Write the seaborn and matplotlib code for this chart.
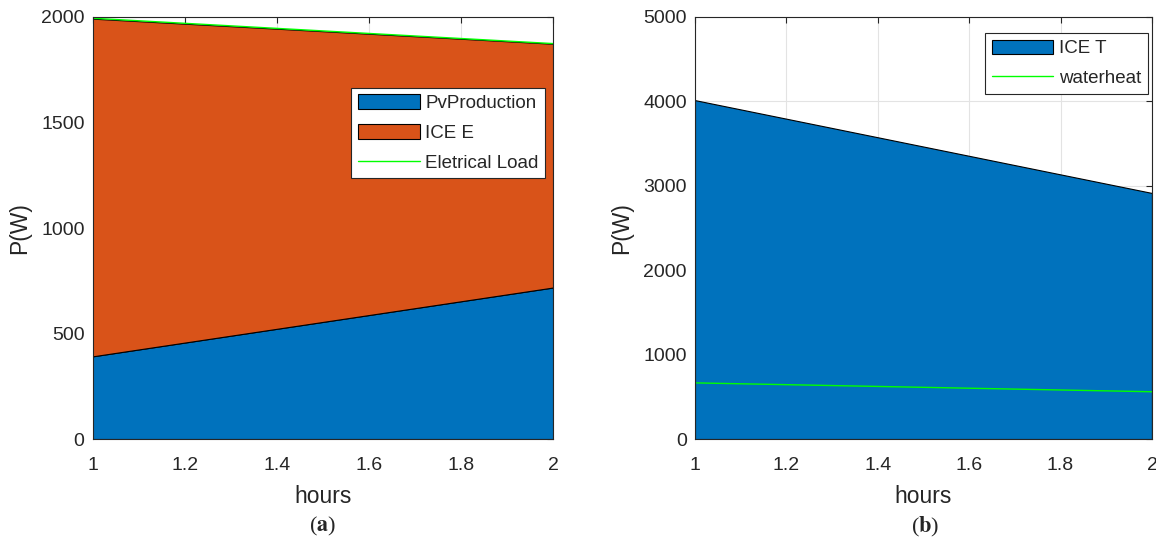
import matplotlib
matplotlib.use("Agg")
import matplotlib.pyplot as plt
import seaborn as sns
import pandas as pd
import numpy as np

# ---- data ----
hours = [1, 2]
pv_production = [392, 718]
ice_e = [1600, 1155]          # stacked on top of PV
electrical_load = [1994, 1874]
ice_t = [4015, 2915]
waterheat = [665, 560]

x_ticks = [1, 1.2, 1.4, 1.6, 1.8, 2]
x_ticklabels = ["1", "1.2", "1.4", "1.6", "1.8", "2"]
y_ticks_a = [0, 500, 1000, 1500, 2000]
y_ticks_b = [0, 1000, 2000, 3000, 4000, 5000]

sns.set_style("white")
plt.rcParams["font.family"] = ["Liberation Sans", "DejaVu Sans"]

BLUE = "#0072BD"
ORANGE = "#D95319"
GREEN = "#00FF00"

fig = plt.figure(figsize=(11.56, 5.41), dpi=100)
axA = fig.add_axes([0.0804, 0.1885, 0.3980, 0.7801])
axB = fig.add_axes([0.6012, 0.1885, 0.3953, 0.7801])


def style_axes(ax, yticks, ymax):
    ax.set_xlim(1, 2)
    ax.set_ylim(0, ymax)
    ax.set_xticks(x_ticks)
    ax.set_xticklabels(x_ticklabels)
    ax.set_yticks(yticks)
    ax.set_yticklabels([str(v) for v in yticks])
    ax.grid(True, color="#e3e3e3", linewidth=0.8)
    ax.set_axisbelow(True)
    ax.tick_params(axis="both", direction="in", length=4, width=0.8,
                   top=True, right=True, labelsize=14, colors="#262626")
    ax.tick_params(axis="x", pad=13)
    ax.tick_params(axis="y", pad=6)
    for sp in ax.spines.values():
        sp.set_visible(True)
        sp.set_color("#262626")
        sp.set_linewidth(0.8)
        sp.set_zorder(10)
    ax.set_xlabel("hours", fontsize=16.5, color="#262626", labelpad=8)
    ax.set_ylabel("P(W)", fontsize=16.5, color="#262626", labelpad=7)


def legend(ax, anchor):
    leg = ax.legend(loc="upper right", bbox_to_anchor=anchor,
                    fontsize=13.5, frameon=True, fancybox=False,
                    edgecolor="#262626", framealpha=1, borderpad=0.35,
                    handlelength=3.3, handleheight=0.8, labelspacing=0.65,
                    handletextpad=0.3, borderaxespad=0)
    leg.get_frame().set_linewidth(0.8)
    return leg


# ---- (a) ----
pv = np.array(pv_production)
top = pv + np.array(ice_e)
axA.fill_between(hours, 0, pv, facecolor=BLUE, edgecolor="black",
                 linewidth=0.8, label="PvProduction", zorder=2)
axA.fill_between(hours, pv, top, facecolor=ORANGE, edgecolor="black",
                 linewidth=0.8, label="ICE E", zorder=2)
dfA = pd.DataFrame({"hours": hours, "load": electrical_load})
sns.lineplot(data=dfA, x="hours", y="load", ax=axA, color=GREEN,
             linewidth=1.0, label="Eletrical Load", zorder=3)
style_axes(axA, y_ticks_a, 2000)
legend(axA, (0.983, 0.832))

# ---- (b) ----
axB.fill_between(hours, 0, ice_t, facecolor=BLUE, edgecolor="black",
                 linewidth=0.8, label="ICE T", zorder=2)
dfB = pd.DataFrame({"hours": hours, "waterheat": waterheat})
sns.lineplot(data=dfB, x="hours", y="waterheat", ax=axB, color=GREEN,
             linewidth=1.0, label="waterheat", zorder=3)
style_axes(axB, y_ticks_b, 5000)
legend(axB, (0.991, 0.962))

# ---- captions ----
fig.text(0.2794, 0.026, r"($\mathbf{a}$)", ha="center", va="center",
         fontsize=16, family="Liberation Serif", math_fontfamily="stix")
fig.text(0.8003, 0.026, r"($\mathbf{b}$)", ha="center", va="center",
         fontsize=16, family="Liberation Serif", math_fontfamily="stix")

fig.savefig("out.png", dpi=100)
